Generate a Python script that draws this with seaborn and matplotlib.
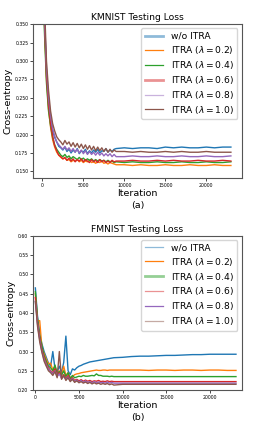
import matplotlib
matplotlib.use("Agg")
import matplotlib.pyplot as plt
import seaborn as sns
import pandas as pd
from matplotlib.lines import Line2D

labels = ["w/o ITRA", r"ITRA ($\lambda = 0.2$)", r"ITRA ($\lambda = 0.4$)",
          r"ITRA ($\lambda = 0.6$)", r"ITRA ($\lambda = 0.8$)", r"ITRA ($\lambda = 1.0$)"]

iters = [0, 250, 500, 750, 1000, 1250, 1500, 1750, 2000, 2250, 2500, 2750, 3000, 3250,
         3500, 3750, 4000, 4250, 4500, 4750, 5000, 5250, 5500, 5750, 6000, 6250, 6500,
         6750, 7000, 7250, 7500, 7750, 8000, 8250, 8500, 8750, 9000, 10000, 11000, 12000,
         13000, 14000, 15000, 16000, 17000, 18000, 19000, 20000, 21000, 22000, 23000]

# KMNIST testing loss
km_base = [0.47, 0.36, 0.285, 0.245, 0.222, 0.205, 0.196, 0.19, 0.184, 0.182, 0.179, 0.183, 0.177,
           0.18, 0.175, 0.179, 0.176, 0.181, 0.174, 0.178, 0.176, 0.18, 0.174, 0.178, 0.175, 0.179,
           0.176, 0.18, 0.175, 0.178, 0.177, 0.181, 0.176, 0.179, 0.177, 0.18, 0.181, 0.182, 0.181,
           0.182, 0.182, 0.181, 0.183, 0.182, 0.183, 0.182, 0.182, 0.183, 0.182, 0.183, 0.183]
km_02 = [0.44, 0.35, 0.275, 0.235, 0.21, 0.193, 0.183, 0.176, 0.172, 0.169, 0.167, 0.168, 0.165,
         0.166, 0.163, 0.165, 0.164, 0.166, 0.163, 0.165, 0.162, 0.164, 0.163, 0.165, 0.162, 0.163,
         0.161, 0.163, 0.162, 0.164, 0.161, 0.162, 0.16, 0.162, 0.161, 0.16, 0.159, 0.159, 0.158,
         0.159, 0.158, 0.158, 0.159, 0.158, 0.158, 0.159, 0.158, 0.158, 0.159, 0.158, 0.158]
km_04 = [0.45, 0.34, 0.27, 0.232, 0.212, 0.196, 0.186, 0.18, 0.176, 0.172, 0.17, 0.173, 0.169,
         0.171, 0.167, 0.17, 0.168, 0.166, 0.169, 0.166, 0.168, 0.165, 0.167, 0.165, 0.167, 0.164,
         0.166, 0.164, 0.166, 0.164, 0.165, 0.163, 0.165, 0.163, 0.164, 0.162, 0.163, 0.162, 0.163,
         0.162, 0.162, 0.163, 0.162, 0.162, 0.163, 0.162, 0.162, 0.163, 0.162, 0.162, 0.163]
km_06 = [0.46, 0.355, 0.28, 0.24, 0.215, 0.198, 0.185, 0.178, 0.172, 0.17, 0.167, 0.169, 0.165,
         0.168, 0.164, 0.167, 0.163, 0.166, 0.164, 0.167, 0.163, 0.166, 0.164, 0.162, 0.166, 0.163,
         0.165, 0.162, 0.166, 0.163, 0.165, 0.162, 0.164, 0.162, 0.165, 0.163, 0.164, 0.164, 0.165,
         0.164, 0.164, 0.165, 0.164, 0.165, 0.164, 0.164, 0.165, 0.164, 0.164, 0.165, 0.164]
km_08 = [0.47, 0.365, 0.29, 0.25, 0.225, 0.208, 0.198, 0.19, 0.186, 0.183, 0.18, 0.184, 0.179,
         0.182, 0.177, 0.181, 0.176, 0.18, 0.175, 0.179, 0.174, 0.178, 0.173, 0.177, 0.173, 0.176,
         0.172, 0.176, 0.172, 0.175, 0.171, 0.174, 0.171, 0.174, 0.17, 0.173, 0.17, 0.17, 0.171,
         0.17, 0.17, 0.171, 0.17, 0.17, 0.171, 0.17, 0.17, 0.171, 0.17, 0.17, 0.171]
km_10 = [0.48, 0.38, 0.3, 0.26, 0.232, 0.215, 0.205, 0.197, 0.193, 0.19, 0.186, 0.192, 0.187,
         0.19, 0.184, 0.189, 0.183, 0.188, 0.182, 0.187, 0.181, 0.186, 0.18, 0.185, 0.179, 0.184,
         0.178, 0.183, 0.178, 0.182, 0.177, 0.181, 0.176, 0.18, 0.176, 0.179, 0.177, 0.177, 0.176,
         0.177, 0.176, 0.176, 0.177, 0.176, 0.177, 0.176, 0.176, 0.177, 0.176, 0.176, 0.176]

# FMNIST testing loss
fm_base = [0.465, 0.39, 0.345, 0.32, 0.3, 0.285, 0.27, 0.262, 0.3, 0.255, 0.248, 0.262, 0.245,
           0.272, 0.34, 0.25, 0.24, 0.255, 0.252, 0.258, 0.262, 0.264, 0.267, 0.269, 0.271, 0.273,
           0.274, 0.275, 0.276, 0.277, 0.278, 0.279, 0.28, 0.281, 0.282, 0.283, 0.284, 0.285, 0.287,
           0.288, 0.288, 0.289, 0.29, 0.29, 0.291, 0.292, 0.292, 0.293, 0.293, 0.293, 0.293]
fm_02 = [0.45, 0.38, 0.38, 0.31, 0.295, 0.28, 0.268, 0.27, 0.252, 0.262, 0.245, 0.25, 0.24,
         0.262, 0.238, 0.245, 0.232, 0.235, 0.24, 0.242, 0.243, 0.245, 0.246, 0.247, 0.248, 0.249,
         0.25, 0.251, 0.252, 0.251, 0.251, 0.252, 0.252, 0.251, 0.252, 0.252, 0.252, 0.252, 0.252,
         0.252, 0.251, 0.252, 0.252, 0.251, 0.252, 0.252, 0.251, 0.252, 0.252, 0.251, 0.251]
fm_04 = [0.455, 0.385, 0.34, 0.315, 0.29, 0.275, 0.262, 0.258, 0.25, 0.265, 0.242, 0.248, 0.238,
         0.25, 0.235, 0.245, 0.23, 0.238, 0.232, 0.234, 0.236, 0.235, 0.238, 0.236, 0.236, 0.237,
         0.238, 0.237, 0.242, 0.238, 0.238, 0.236, 0.236, 0.236, 0.235, 0.236, 0.235, 0.235, 0.235,
         0.235, 0.235, 0.235, 0.235, 0.235, 0.235, 0.235, 0.235, 0.235, 0.235, 0.235, 0.235]
fm_06 = [0.44, 0.375, 0.335, 0.305, 0.285, 0.268, 0.258, 0.25, 0.245, 0.255, 0.238, 0.245, 0.232,
         0.24, 0.23, 0.238, 0.226, 0.232, 0.225, 0.228, 0.224, 0.227, 0.223, 0.226, 0.223, 0.225,
         0.222, 0.224, 0.223, 0.225, 0.222, 0.223, 0.222, 0.224, 0.222, 0.223, 0.222, 0.222, 0.222,
         0.222, 0.222, 0.222, 0.222, 0.222, 0.222, 0.222, 0.222, 0.222, 0.222, 0.222, 0.222]
fm_08 = [0.43, 0.37, 0.33, 0.3, 0.28, 0.265, 0.255, 0.248, 0.242, 0.25, 0.235, 0.242, 0.23,
         0.236, 0.228, 0.234, 0.224, 0.23, 0.222, 0.226, 0.221, 0.225, 0.22, 0.224, 0.22, 0.222,
         0.219, 0.222, 0.219, 0.221, 0.219, 0.22, 0.218, 0.221, 0.218, 0.22, 0.218, 0.218, 0.218,
         0.218, 0.218, 0.218, 0.218, 0.218, 0.218, 0.218, 0.218, 0.218, 0.218, 0.218, 0.218]
fm_10 = [0.43, 0.365, 0.325, 0.298, 0.275, 0.262, 0.25, 0.245, 0.238, 0.248, 0.232, 0.3, 0.228,
         0.238, 0.225, 0.232, 0.222, 0.228, 0.22, 0.224, 0.219, 0.222, 0.218, 0.221, 0.217, 0.22,
         0.216, 0.219, 0.216, 0.218, 0.215, 0.217, 0.215, 0.217, 0.214, 0.216, 0.213, 0.215, 0.215,
         0.215, 0.215, 0.215, 0.215, 0.215, 0.215, 0.215, 0.215, 0.215, 0.215, 0.215, 0.215]

km_series = [km_base, km_02, km_04, km_06, km_08, km_10]
fm_series = [fm_base, fm_02, fm_04, fm_06, fm_08, fm_10]

colors = sns.color_palette("tab10", 6)

# legend handle look: (linewidth, alpha)
km_leg = [(2.0, 0.5), (0.9, 1.0), (0.9, 1.0), (2.0, 0.5), (0.9, 0.5), (0.9, 1.0)]
fm_leg = [(0.9, 0.5), (0.9, 1.0), (2.0, 0.5), (0.9, 0.5), (0.9, 1.0), (0.9, 0.5)]

plt.rcParams['font.family'] = ['DejaVu Sans']
fig = plt.figure(figsize=(2.69, 4.32), dpi=100)
ax1 = fig.add_axes([0.124, 0.588, 0.774, 0.356])
ax2 = fig.add_axes([0.124, 0.097, 0.774, 0.357])


def draw(ax, series, leg_style, title, sub):
    for vals, lab, col in zip(series, labels, colors):
        df = pd.DataFrame({"iter": iters, "loss": vals})
        sns.lineplot(data=df, x="iter", y="loss", ax=ax, color=col, lw=1.0, estimator=None)
    handles = [Line2D([], [], color=c, lw=lw, alpha=a) for c, (lw, a) in zip(colors, leg_style)]
    ax.legend(handles, labels, loc="upper right", fontsize=6.6, handlelength=2.0,
              borderaxespad=0.45, labelspacing=0.32)
    ax.set_title(title, fontsize=6.6, pad=3)
    ax.set_xlabel("Iteration\n(" + sub + ")", fontsize=6.8, labelpad=1, linespacing=1.35)
    ax.set_ylabel("Cross-entropy", fontsize=6.8, labelpad=2)
    ax.tick_params(labelsize=3.3, length=2, width=0.5, pad=1.5)
    for s in ax.spines.values():
        s.set_linewidth(0.8)
        s.set_color("#555555")


draw(ax1, km_series, km_leg, "KMNIST Testing Loss", "a")
ax1.set_xlim(-1100, 24300)
ax1.set_ylim(0.141, 0.35)
ax1.set_yticks([0.150, 0.175, 0.200, 0.225, 0.250, 0.275, 0.300, 0.325, 0.350])
ax1.set_xticks([0, 5000, 10000, 15000, 20000])

draw(ax2, fm_series, fm_leg, "FMNIST Testing Loss", "b")
ax2.set_xlim(-230, 23640)
ax2.set_ylim(0.20, 0.60)
ax2.set_yticks([0.20, 0.25, 0.30, 0.35, 0.40, 0.45, 0.50, 0.55, 0.60])
ax2.set_xticks([0, 5000, 10000, 15000, 20000])

fig.savefig("out.png", dpi=100)
